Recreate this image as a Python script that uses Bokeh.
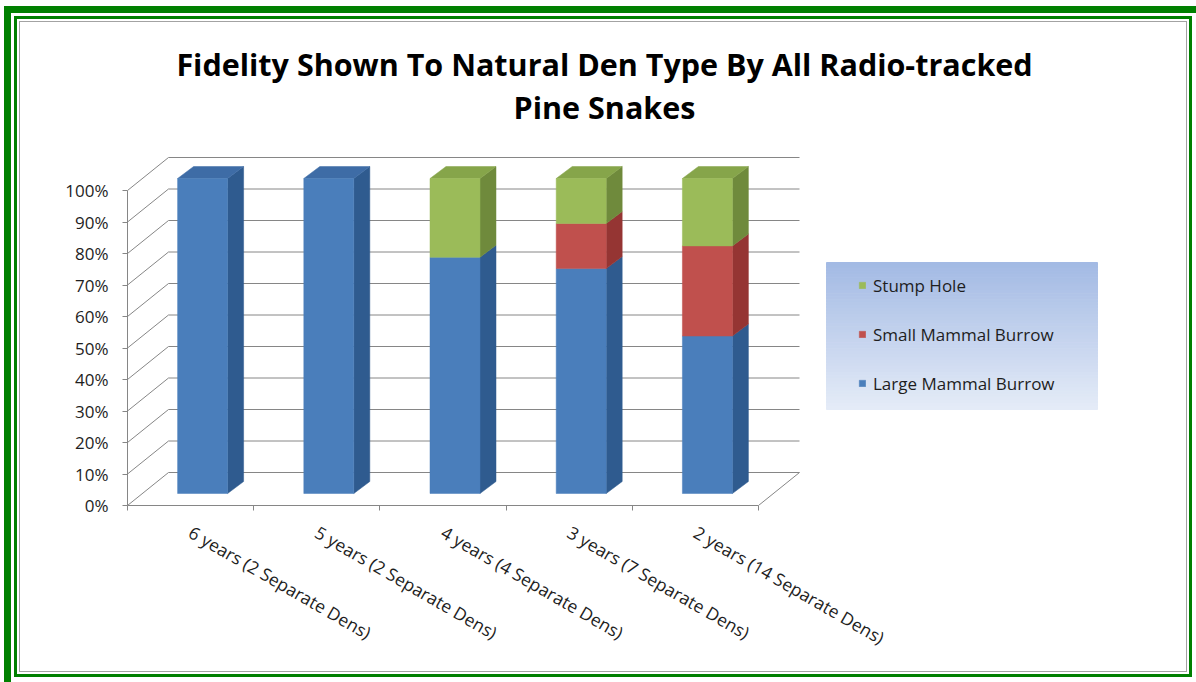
import math

from bokeh.plotting import figure
from bokeh.models import (FixedTicker, PrintfTickFormatter, Legend, LegendItem,
                          Range1d, LinearAxis)
from bokeh.core.properties import value
from bokeh.embed import file_html
from bokeh.resources import INLINE

# ---- data -------------------------------------------------------------
categories = [
    "6 years (2 Separate Dens)",
    "5 years (2 Separate Dens)",
    "4 years (4 Separate Dens)",
    "3 years (7 Separate Dens)",
    "2 years (14 Separate Dens)",
]
large_mammal_burrow = [100.0, 100.0, 75.0, 71.4, 50.0]
small_mammal_burrow = [0.0, 0.0, 0.0, 14.3, 28.6]
stump_hole = [0.0, 0.0, 25.0, 14.3, 21.4]
series_names = ["Large Mammal Burrow", "Small Mammal Burrow", "Stump Hole"]
y_ticks = [0, 10, 20, 30, 40, 50, 60, 70, 80, 90, 100]
title_lines = ["Fidelity Shown To Natural Den Type By All Radio-tracked",
               "Pine Snakes"]

# ---- styling ----------------------------------------------------------
face_colors = {  # front, side, top
    "Large Mammal Burrow": ("#4a7ebb", "#2f5b8f", "#3e6ca6"),
    "Small Mammal Burrow": ("#c0504d", "#953533", "#a94442"),
    "Stump Hole": ("#9bbb59", "#6f8a3c", "#86a54a"),
}
GRID = "#868686"
TEXT = "#1e1e1e"
FONT = "Open Sans"

W, H = 1196, 682
FRAME_L, FRAME_B = 127, 505      # canvas px of the front-left-bottom corner
UX, UY = 126.2, 3.15             # px per category, px per percent


def dxu(px):
    return px / UX


def dyu(px):
    return px / UY


def at_x(px):
    return (px - FRAME_L) / UX


def at_y(py):
    return (FRAME_B - py) / UY


# depth of the back wall and of the columns, in data units
WALL_DX, WALL_DY = dxu(41), dyu(33)
BAR_FX, BAR_FY = dxu(12), dyu(12)     # front face of the columns
BAR_DX, BAR_DY = dxu(16), dyu(12)     # column thickness
BAR_W = dxu(50)

p = figure(width=W, height=H,
           x_range=Range1d(0, (W - FRAME_L) / UX),
           y_range=Range1d(0, FRAME_B / UY),
           output_backend="svg", toolbar_location=None,
           min_border_left=FRAME_L, min_border_right=0,
           min_border_top=0, min_border_bottom=H - FRAME_B,
           x_axis_location=None, y_axis_location=None)
p.outline_line_color = None
# transparent canvas so the page frame drawn behind it shows through
p.background_fill_color = None
p.border_fill_color = None
p.xgrid.visible = False
p.ygrid.visible = False

# ---- double green frame with a thin grey inner rule (page background) ----
frame_rects = [
    # x, y, w, h, colour
    (4, 6, 1192, 7, "#008000"),
    (4, 6, 7, 676, "#008000"),
    (14, 16, 1178, 3, "#008000"),
    (14, 16, 3, 661, "#008000"),
    (1189, 16, 3, 661, "#008000"),
    (14, 674, 1178, 3, "#008000"),
    (19, 21, 1168, 1, "#a3a3a3"),
    (19, 21, 1, 651, "#a3a3a3"),
    (1186, 21, 1, 651, "#a3a3a3"),
    (19, 671, 1168, 1, "#a3a3a3"),
]
layers = ", ".join(
    f"linear-gradient({c}, {c}) {x}px {y}px / {w}px {h}px no-repeat"
    for x, y, w, h, c in frame_rects)
p.styles = {"background": layers + ", #ffffff"}

# ---- axes -------------------------------------------------------------
n = len(categories)
yaxis = LinearAxis(ticker=FixedTicker(ticks=y_ticks, minor_ticks=[]),
                   formatter=PrintfTickFormatter(format="%d%%"),
                   bounds=(0, 100))
yaxis.axis_line_color = GRID
yaxis.major_tick_line_color = GRID
yaxis.major_tick_in = 0
yaxis.major_tick_out = 5
yaxis.minor_tick_line_color = None
yaxis.major_label_standoff = 14
yaxis.major_label_text_font = FONT
yaxis.major_label_text_font_size = "17px"
yaxis.major_label_text_color = TEXT
p.add_layout(yaxis, "left")

centers = [i + 0.5 for i in range(n)]
xaxis = LinearAxis(ticker=FixedTicker(ticks=centers, minor_ticks=list(range(n + 1))),
                   bounds=(0, n))
xaxis.major_label_overrides = {c: lab for c, lab in zip(centers, categories)}
xaxis.axis_line_color = GRID
xaxis.major_tick_line_color = None
xaxis.minor_tick_line_color = GRID
xaxis.minor_tick_in = 0
xaxis.minor_tick_out = 5
xaxis.major_label_orientation = -math.pi / 6
xaxis.major_label_standoff = 19
xaxis.major_label_text_font = FONT
xaxis.major_label_text_font_size = "17.5px"
xaxis.major_label_text_color = TEXT
p.add_layout(xaxis, "below")

# ---- walls: back-wall gridlines, left-wall diagonals, floor edge --------
p.segment(x0=[WALL_DX] * len(y_ticks), y0=[v + WALL_DY for v in y_ticks],
          x1=[n + WALL_DX] * len(y_ticks), y1=[v + WALL_DY for v in y_ticks],
          line_color=GRID, line_width=1)
p.segment(x0=[0] * len(y_ticks), y0=y_ticks,
          x1=[WALL_DX] * len(y_ticks), y1=[v + WALL_DY for v in y_ticks],
          line_color=GRID, line_width=1)
p.segment(x0=[n], y0=[0], x1=[n + WALL_DX], y1=[WALL_DY],
          line_color=GRID, line_width=1)

# ---- 3-D stacked columns -----------------------------------------------
stack = {"Large Mammal Burrow": large_mammal_burrow,
         "Small Mammal Burrow": small_mammal_burrow,
         "Stump Hole": stump_hole}
bottoms = [0.0] * n
totals = [sum(vals) for vals in zip(*stack.values())]
front_renderers = {}
for name in series_names:
    vals = stack[name]
    front_c, side_c, top_c = face_colors[name]
    left, right, bot, top = [], [], [], []
    side_xs, side_ys, top_xs, top_ys = [], [], [], []
    for i, v in enumerate(vals):
        b = bottoms[i]
        t = b + v
        if v > 0:
            xl = centers[i] + BAR_FX - BAR_W / 2
            xr = centers[i] + BAR_FX + BAR_W / 2
            left.append(xl)
            right.append(xr)
            bot.append(b + BAR_FY)
            top.append(t + BAR_FY)
            side_xs.append([xr, xr + BAR_DX, xr + BAR_DX, xr])
            side_ys.append([b + BAR_FY, b + BAR_FY + BAR_DY,
                            t + BAR_FY + BAR_DY, t + BAR_FY])
            if abs(t - totals[i]) < 1e-6:
                top_xs.append([xl, xl + BAR_DX, xr + BAR_DX, xr])
                top_ys.append([t + BAR_FY, t + BAR_FY + BAR_DY,
                               t + BAR_FY + BAR_DY, t + BAR_FY])
        bottoms[i] = t
    if side_xs:
        p.patches(side_xs, side_ys, fill_color=side_c, line_color=side_c, line_width=0.5)
    if top_xs:
        p.patches(top_xs, top_ys, fill_color=top_c, line_color=top_c, line_width=0.5)
    front_renderers[name] = p.quad(left=left, right=right, bottom=bot, top=top,
                                   fill_color=front_c, line_color=front_c,
                                   line_width=0.5)

# ---- title ------------------------------------------------------------
p.text(x=[at_x(604)] * 2, y=[at_y(63), at_y(106)], text=title_lines,
       text_font=value(FONT), text_font_style="bold", text_font_size="30.5px",
       text_align="center", text_baseline="middle", text_color="#000000")

# ---- legend panel with a soft blue gradient ------------------------------
box_l, box_r, box_t, box_b = 826, 1097, 262, 409
steps = 48
top_rgb, bot_rgb = (163, 186, 228), (228, 235, 247)
g_top, g_bot, g_col = [], [], []
for k in range(steps):
    f = k / (steps - 1)
    y0 = box_t + (box_b - box_t) * k / steps
    y1 = box_t + (box_b - box_t) * (k + 1) / steps
    g_top.append(at_y(y0))
    g_bot.append(at_y(y1))
    c = tuple(int(round(a + (b - a) * f)) for a, b in zip(top_rgb, bot_rgb))
    g_col.append("#%02x%02x%02x" % c)
p.quad(left=[at_x(box_l)] * steps, right=[at_x(box_r)] * steps,
       top=g_top, bottom=g_bot, fill_color=g_col, line_color=g_col, line_width=1)

legend = Legend(items=[LegendItem(label=name, renderers=[front_renderers[name]])
                       for name in reversed(series_names)],
                location=(731, 110),
                orientation="vertical",
                background_fill_alpha=0, border_line_color=None,
                padding=10, spacing=25, margin=0,
                glyph_width=8, glyph_height=8, label_height=24,
                label_standoff=7,
                label_text_font=FONT, label_text_font_size="17px",
                label_text_color=TEXT)
p.add_layout(legend)

open("out.html", "w").write(file_html(p, INLINE))
